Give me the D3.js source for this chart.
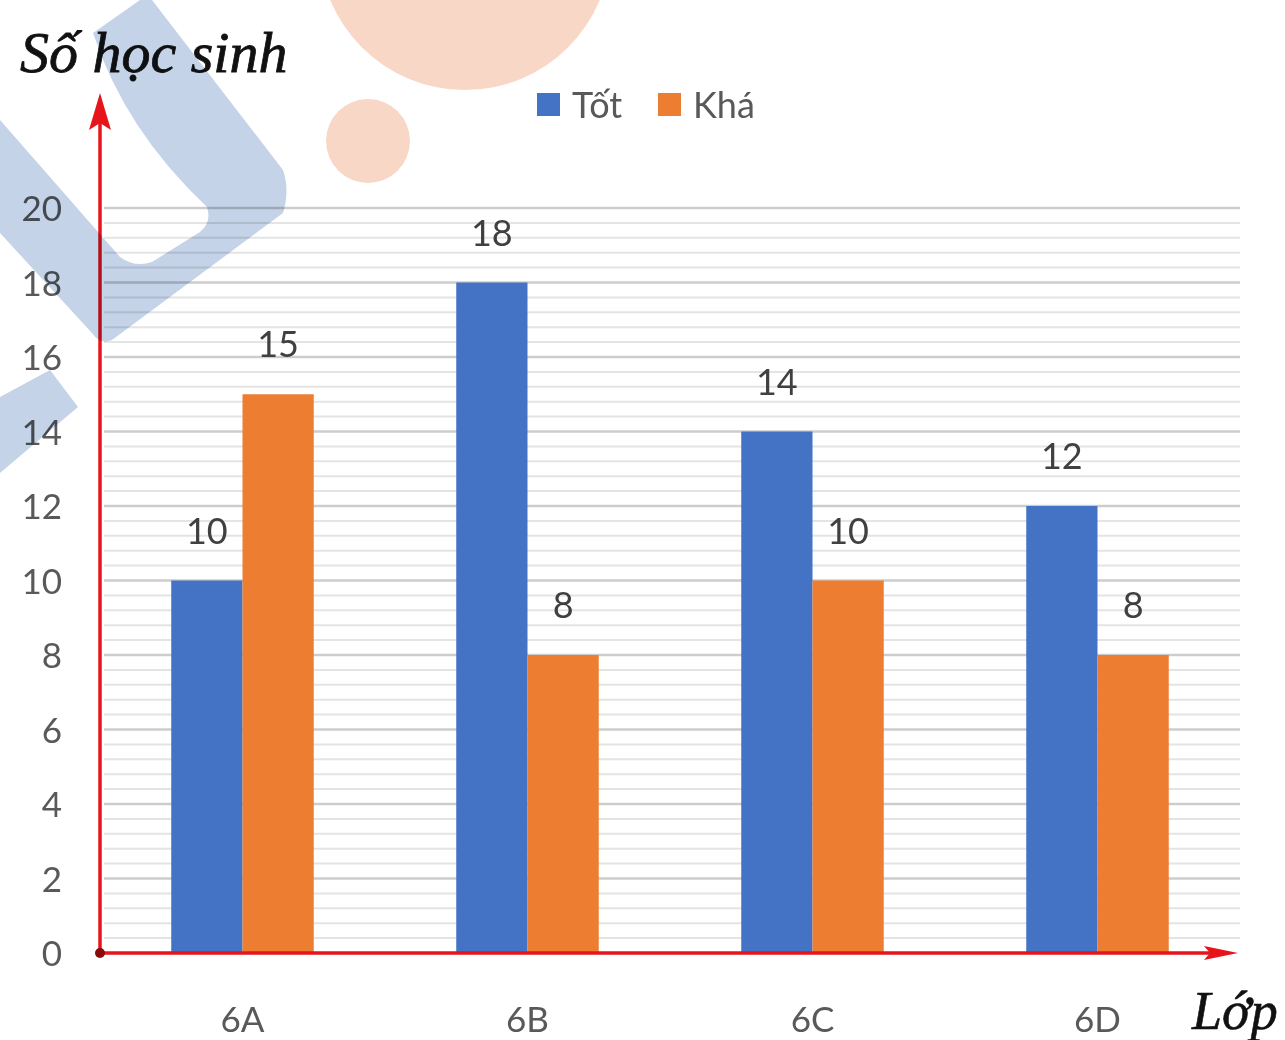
<!DOCTYPE html>
<html>
<head>
<meta charset="utf-8">
<script src="https://cdn.jsdelivr.net/npm/d3@7"></script>
<style>
  html, body { margin: 0; padding: 0; background: #ffffff; }
  svg { display: block; }
</style>
</head>
<body>
<script>
// ---- data ----
const categories = ["6A", "6B", "6C", "6D"];
const seriesNames = ["Tốt", "Khá"];
const totValues = [10, 18, 14, 12];
const khaValues = [15, 8, 10, 8];
const yTickValues = [0, 2, 4, 6, 8, 10, 12, 14, 16, 18, 20];
const yTitle = "Số học sinh";
const xTitle = "Lớp";
const seriesColors = ["#4472C4", "#ED7D31"];

// ---- layout ----
const W = 1285, H = 1040;
const x0 = 100, x1 = 1240, yBase = 953, yTop = 208;

const svg = d3.select("body").append("svg")
  .attr("width", W).attr("height", H)
  .style("font-family", "Lato, 'Open Sans', sans-serif");

svg.append("rect").attr("width", W).attr("height", H).attr("fill", "#fff");

const x = d3.scaleBand().domain(categories).range([x0, x1])
  .paddingInner(0.5).paddingOuter(0.25);
const xs = d3.scaleBand().domain(seriesNames).range([0, x.bandwidth()]).padding(0);
const y = d3.scaleLinear().domain([0, 20]).range([yBase, yTop]);
const color = d3.scaleOrdinal().domain(seriesNames).range(seriesColors);

// ---- gridlines ----
const minorTicks = d3.range(0, 20.0001, 0.4).filter(v => Math.abs(v / 2 - Math.round(v / 2)) > 1e-6);
svg.append("g").selectAll("line").data(minorTicks).join("line")
  .attr("x1", x0 + 4).attr("x2", x1)
  .attr("y1", d => y(d)).attr("y2", d => y(d))
  .attr("stroke", "#e4e4e4").attr("stroke-width", 2);
svg.append("g").selectAll("line").data(yTickValues.filter(v => v > 0)).join("line")
  .attr("x1", x0 + 4).attr("x2", x1)
  .attr("y1", d => y(d)).attr("y2", d => y(d))
  .attr("stroke", "#cdcdcd").attr("stroke-width", 2.5);

// ---- bars ----
const rows = categories.map((c, i) => ({ cat: c, vals: [
  { key: seriesNames[0], v: totValues[i] },
  { key: seriesNames[1], v: khaValues[i] }
]}));

const groups = svg.append("g").selectAll("g").data(rows).join("g")
  .attr("transform", d => `translate(${x(d.cat)},0)`);

groups.selectAll("rect").data(d => d.vals).join("rect")
  .attr("x", d => xs(d.key))
  .attr("width", xs.bandwidth())
  .attr("y", d => y(d.v))
  .attr("height", d => y(0) - y(d.v))
  .attr("fill", d => color(d.key));

groups.selectAll("text").data(d => d.vals).join("text")
  .attr("x", d => xs(d.key) + xs.bandwidth() / 2)
  .attr("y", d => y(d.v) - 37)
  .attr("text-anchor", "middle")
  .attr("font-size", 36)
  .attr("fill", "#404040")
  .text(d => d.v);

// ---- axes (labels) ----
const yAxis = d3.axisLeft(y).tickValues(yTickValues).tickSize(0).tickPadding(38);
const gy = svg.append("g").attr("transform", `translate(${x0},0)`).call(yAxis);
gy.select(".domain").remove();
gy.selectAll("text")
  .attr("font-size", 35).attr("fill", "#595959")
  .attr("font-family", "Lato, 'Open Sans', sans-serif")
  .attr("dy", "0.36em");

const xAxis = d3.axisBottom(x).tickSize(0).tickPadding(0);
const gx = svg.append("g").attr("transform", `translate(0,${yBase})`).call(xAxis);
gx.select(".domain").remove();
gx.selectAll("text")
  .attr("font-size", 35).attr("fill", "#595959")
  .attr("font-family", "Lato, 'Open Sans', sans-serif")
  .attr("y", 79).attr("dy", 0);

// ---- red arrow axes ----
const red = "#e8141c";
svg.append("line").attr("x1", x0).attr("x2", x0).attr("y1", yBase).attr("y2", 120)
  .attr("stroke", red).attr("stroke-width", 3.5);
svg.append("path").attr("d", `M${x0},93 L${x0 + 11},130 L${x0},123 L${x0 - 11},130 Z`).attr("fill", red);
svg.append("line").attr("x1", x0).attr("x2", 1225).attr("y1", yBase).attr("y2", yBase)
  .attr("stroke", red).attr("stroke-width", 3.5);
svg.append("path").attr("d", `M1238,${yBase} L1204,${yBase - 7} L1210,${yBase} L1204,${yBase + 7} Z`).attr("fill", red);
svg.append("circle").attr("cx", x0).attr("cy", yBase).attr("r", 5).attr("fill", "#8a0a0a");

// ---- titles ----
svg.append("text").attr("x", 20).attr("y", 72)
  .attr("font-family", "'Liberation Serif', 'DejaVu Serif', serif")
  .attr("font-style", "italic").attr("font-size", 58).attr("fill", "#111")
  .attr("stroke", "#111").attr("stroke-width", 0.8)
  .text(yTitle);
svg.append("text").attr("x", 1192).attr("y", 1029)
  .attr("font-family", "'Liberation Serif', 'DejaVu Serif', serif")
  .attr("font-style", "italic").attr("font-size", 54).attr("fill", "#111")
  .attr("stroke", "#111").attr("stroke-width", 0.6)
  .text(xTitle);

// ---- legend ----
const legendX = [537, 658];
const lg = svg.append("g").selectAll("g").data(seriesNames).join("g")
  .attr("transform", (d, i) => `translate(${legendX[i]},93)`);
lg.append("rect").attr("width", 23).attr("height", 23).attr("fill", d => color(d));
lg.append("text").attr("x", 35).attr("y", 25)
  .attr("font-size", 36).attr("fill", "#595959").text(d => d);

// ---- watermark (decorative) ----
const wm = svg.append("g").style("mix-blend-mode", "multiply");
wm.append("path")
  .attr("d", "M93,33 L140,0 L152,0 L283,170 Q290,190 283,213 L112,340 Q100,345 92,333 L0,233 L0,120 L120,257 Q135,268 152,262 L200,232 Q212,222 207,207 Q125,130 93,33 Z")
  .attr("fill", "#c4d3e7");
wm.append("path")
  .attr("d", "M0,397 L50,370 L78,407 L0,473 Z")
  .attr("fill", "#c4d3e7");
wm.append("circle").attr("cx", 465).attr("cy", -56).attr("r", 146).attr("fill", "#f9d7c6");
wm.append("circle").attr("cx", 368).attr("cy", 141).attr("r", 42).attr("fill", "#f9d7c6");
</script>
</body>
</html>
